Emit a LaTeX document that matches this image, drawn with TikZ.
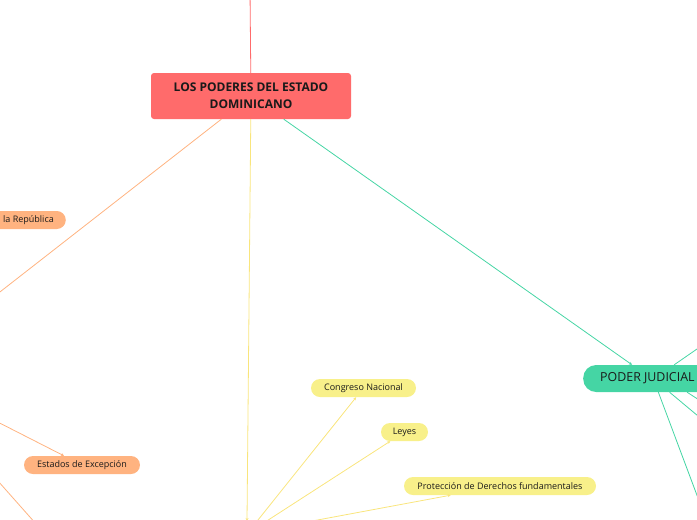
\documentclass[tikz,border=0pt]{standalone}
\usepackage{fontspec}
\setmainfont{Open Sans}
\usetikzlibrary{arrows.meta}
\definecolor{cred}{HTML}{FF6B6B}
\definecolor{corange}{HTML}{FFB380}
\definecolor{cyellow}{HTML}{F8F08A}
\definecolor{cgreen}{HTML}{45D5A4}
\definecolor{ctext}{HTML}{1A1A1A}
\tikzset{
  pill/.style={rounded corners=9pt, inner sep=0pt, minimum height=18pt, text=ctext,
    font=\fontsize{9}{10}\selectfont},
  link/.style={line width=0.8pt, -{Stealth[length=3pt,width=3pt]}},
  plain/.style={line width=0.8pt},
}
\begin{document}
\begin{tikzpicture}[x=1pt,y=-1pt]
\useasboundingbox (0,0) rectangle (697,520);
\clip (0,0) rectangle (697,520);

% off-picture ends
\coordinate (top) at (250,-10);
\coordinate (pe) at (-36,320);
\coordinate (pl) at (247,521);
\coordinate (l1) at (246,535);
\coordinate (l2) at (245,535);
\coordinate (l3) at (237,535);
\coordinate (o1) at (-20,413);
\coordinate (o2) at (-10,472);
\coordinate (o2e) at (45,534);
\coordinate (g1) at (710,340);
\coordinate (g2) at (710,426);
\coordinate (g3) at (710,407);
\coordinate (g4) at (710,530);

% nodes
\node[fill=cred, rounded corners=3pt, minimum width=200pt, minimum height=46pt,
  align=center, inner sep=0pt, text=ctext, font=\bfseries\fontsize{12}{17}\selectfont]
  (c) at (251,96) {LOS PODERES DEL ESTADO\\DOMINICANO};
\node[pill, fill=cgreen, rounded corners=13pt, minimum height=27pt, anchor=west,
  inner xsep=17pt, font=\fontsize{12.4}{14}\selectfont, align=left]
  (pj) at (583,378.5) {PODER JUDICIAL\hspace*{8pt}};
\node[pill, fill=corange, anchor=east, inner xsep=12pt] (rep) at (66,220) {la República};
\node[pill, fill=corange, minimum width=116pt] (ee) at (82,465) {Estados de Excepción};
\node[pill, fill=cyellow, minimum width=105pt] (cn) at (363.5,388) {Congreso Nacional};
\node[pill, fill=cyellow, minimum width=47pt] (ly) at (404.5,432) {Leyes};
\node[pill, fill=cyellow, minimum width=192pt] (pd) at (500,486) {Protección de Derechos fundamentales};

% connectors
\draw[plain, cred] (top) -- (c);
\draw[plain, corange] (c) -- (pe);
\draw[link, cyellow!90!orange] (c) -- (pl);
\draw[link, cgreen] (c) -- (pj);
\draw[link, cyellow!90!orange] (l1) -- (cn);
\draw[link, cyellow!90!orange] (l2) -- (ly);
\draw[link, cyellow!90!orange] (l3) -- (pd);
\draw[link, corange] (o1) -- (ee);
\draw[plain, corange] (o2) -- (o2e);
\draw[plain, cgreen] (pj.31) -- (g1);
\draw[plain, cgreen] (pj.-37) -- (g2);
\draw[plain, cgreen] (pj.-21) -- (g3);
\draw[plain, cgreen] (pj.-63) -- (g4);
\end{tikzpicture}
\end{document}
